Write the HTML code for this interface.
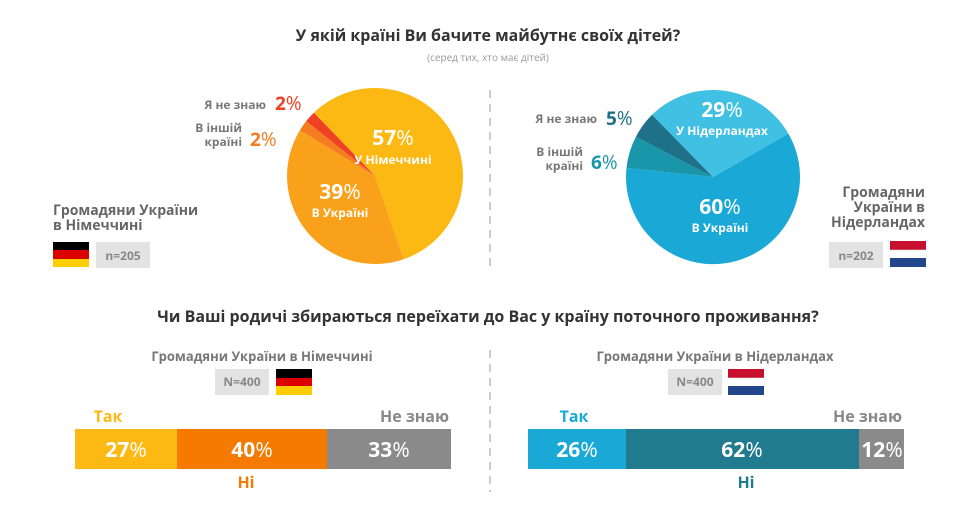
<!DOCTYPE html>
<html><head><meta charset="utf-8"><style>
body{margin:0;background:#fff;}
svg{display:block;font-family:"Open Sans","Liberation Sans","DejaVu Sans",sans-serif;}
.b{font-weight:bold}
</style></head><body>
<svg width="976" height="506" viewBox="0 0 976 506">
<text x="488" y="41" text-anchor="middle" class="b" font-size="16" fill="#333">У якій країні Ви бачите майбутнє своїх дітей?</text>
<text x="488" y="61" text-anchor="middle" font-size="10" fill="#999">(серед тих, хто має дітей)</text>
<line x1="490" y1="90" x2="490" y2="272" stroke="#ccc" stroke-width="2" stroke-dasharray="8,6"/>
<line x1="490" y1="350" x2="490" y2="492" stroke="#ccc" stroke-width="2" stroke-dasharray="8,6"/>

<!-- Pie 1 -->
<path d="M375,176 L313.9,112.7 A88,88 0 1 1 403.7,259.2 Z" fill="#fdb913"/>
<path d="M375,176 L403.7,259.2 A88,88 0 0 1 299.9,130.2 Z" fill="#f9a11b"/>
<path d="M375,176 L299.9,130.2 A88,88 0 0 1 306.2,121.1 Z" fill="#f47d20"/>
<path d="M375,176 L306.2,121.1 A88,88 0 0 1 313.9,112.7 Z" fill="#ef4123"/>
<text x="393" y="145" text-anchor="middle" font-size="21" fill="#fff"><tspan class="b">57</tspan>%</text>
<text x="393" y="164" text-anchor="middle" class="b" font-size="12" fill="#fff">У Німеччині</text>
<text x="340" y="199" text-anchor="middle" font-size="21" fill="#fff"><tspan class="b">39</tspan>%</text>
<text x="340" y="217" text-anchor="middle" class="b" font-size="12" fill="#fff">В Україні</text>
<text x="266" y="109" text-anchor="end" class="b" font-size="12" fill="#777">Я не знаю</text>
<text x="275" y="110" font-size="19" fill="#ef4123"><tspan class="b">2</tspan>%</text>
<text x="242" y="132" text-anchor="end" class="b" font-size="12" fill="#777">В іншій</text>
<text x="242" y="146" text-anchor="end" class="b" font-size="12" fill="#777">країні</text>
<text x="250" y="146" font-size="19" fill="#f47d20"><tspan class="b">2</tspan>%</text>
<text x="53" y="215" class="b" font-size="14" fill="#666">Громадяни України</text>
<text x="53" y="230" class="b" font-size="14" fill="#666">в Німеччині</text>
<rect x="53" y="242" width="36" height="8" fill="#000"/><rect x="53" y="250" width="36" height="9" fill="#dd0000"/><rect x="53" y="259" width="36" height="8" fill="#ffce00"/>
<rect x="96" y="242" width="54" height="26" fill="#e3e3e3"/>
<text x="123" y="260" text-anchor="middle" class="b" font-size="12" fill="#888">n=205</text>

<!-- Pie 2 -->
<path d="M713,177 L788.3,133.5 A87,87 0 1 1 626.5,167.9 Z" fill="#1aa9d6"/>
<path d="M713,177 L626.5,167.9 A87,87 0 0 1 635.9,136.7 Z" fill="#1a96aa"/>
<path d="M713,177 L635.9,136.7 A87,87 0 0 1 652.1,114.8 Z" fill="#1f7189"/>
<path d="M713,177 L652.1,114.8 A87,87 0 0 1 788.3,133.5 Z" fill="#40c0e2"/>
<text x="722" y="117" text-anchor="middle" font-size="21" fill="#fff"><tspan class="b">29</tspan>%</text>
<text x="722" y="135" text-anchor="middle" class="b" font-size="12" fill="#fff">У Нідерландах</text>
<text x="720" y="214" text-anchor="middle" font-size="21" fill="#fff"><tspan class="b">60</tspan>%</text>
<text x="720" y="232" text-anchor="middle" class="b" font-size="12" fill="#fff">В Україні</text>
<text x="597" y="123" text-anchor="end" class="b" font-size="12" fill="#777">Я не знаю</text>
<text x="606" y="125" font-size="19" fill="#1f7189"><tspan class="b">5</tspan>%</text>
<text x="583" y="156" text-anchor="end" class="b" font-size="12" fill="#777">В іншій</text>
<text x="583" y="170" text-anchor="end" class="b" font-size="12" fill="#777">країні</text>
<text x="591" y="169" font-size="19" fill="#1a96aa"><tspan class="b">6</tspan>%</text>
<text x="925" y="197" text-anchor="end" class="b" font-size="14" fill="#666">Громадяни</text>
<text x="925" y="212" text-anchor="end" class="b" font-size="14" fill="#666">України в</text>
<text x="925" y="227" text-anchor="end" class="b" font-size="14" fill="#666">Нідерландах</text>
<rect x="829" y="242" width="54" height="26" fill="#e3e3e3"/>
<text x="856" y="260" text-anchor="middle" class="b" font-size="12" fill="#888">n=202</text>
<rect x="890" y="241" width="36" height="9" fill="#c8102e"/><rect x="890" y="250" width="36" height="8" fill="#fff" stroke="#eee" stroke-width="0.5"/><rect x="890" y="258" width="36" height="9" fill="#21468b"/>

<!-- Bottom -->
<text x="488" y="322" text-anchor="middle" class="b" font-size="16" fill="#333">Чи Ваші родичі збираються переїхати до Вас у країну поточного проживання?</text>
<text x="262" y="361" text-anchor="middle" class="b" font-size="13" fill="#777">Громадяни України в Німеччині</text>
<rect x="215" y="369" width="54" height="26" fill="#e3e3e3"/>
<text x="242" y="386" text-anchor="middle" class="b" font-size="12" fill="#888">N=400</text>
<rect x="276" y="369" width="36" height="9" fill="#000"/><rect x="276" y="378" width="36" height="8" fill="#dd0000"/><rect x="276" y="386" width="36" height="9" fill="#ffce00"/>
<text x="108" y="422" text-anchor="middle" class="b" font-size="16" fill="#fdb913">Так</text>
<text x="449" y="422" text-anchor="end" class="b" font-size="16" fill="#888">Не знаю</text>
<rect x="75" y="429" width="102" height="40" fill="#fdb913"/>
<rect x="177" y="429" width="150" height="40" fill="#f47a00"/>
<rect x="327" y="429" width="124" height="40" fill="#8a8a8a"/>
<text x="126" y="457" text-anchor="middle" font-size="21" fill="#fff"><tspan class="b">27</tspan>%</text>
<text x="252" y="457" text-anchor="middle" font-size="21" fill="#fff"><tspan class="b">40</tspan>%</text>
<text x="389" y="457" text-anchor="middle" font-size="21" fill="#fff"><tspan class="b">33</tspan>%</text>
<text x="246" y="488" text-anchor="middle" class="b" font-size="16" fill="#f47a00">Ні</text>

<text x="715" y="361" text-anchor="middle" class="b" font-size="13" fill="#777">Громадяни України в Нідерландах</text>
<rect x="668" y="369" width="54" height="26" fill="#e3e3e3"/>
<text x="695" y="386" text-anchor="middle" class="b" font-size="12" fill="#888">N=400</text>
<rect x="728" y="369" width="36" height="9" fill="#c8102e"/><rect x="728" y="378" width="36" height="8" fill="#fff" stroke="#eee" stroke-width="0.5"/><rect x="728" y="386" width="36" height="9" fill="#21468b"/>
<text x="574" y="422" text-anchor="middle" class="b" font-size="16" fill="#1aa9d6">Так</text>
<text x="902" y="422" text-anchor="end" class="b" font-size="16" fill="#888">Не знаю</text>
<rect x="528" y="429" width="98" height="40" fill="#1aa9d6"/>
<rect x="626" y="429" width="233" height="40" fill="#217b8f"/>
<rect x="859" y="429" width="45" height="40" fill="#8a8a8a"/>
<text x="577" y="457" text-anchor="middle" font-size="21" fill="#fff"><tspan class="b">26</tspan>%</text>
<text x="742" y="457" text-anchor="middle" font-size="21" fill="#fff"><tspan class="b">62</tspan>%</text>
<text x="882" y="457" text-anchor="middle" font-size="21" fill="#fff"><tspan class="b">12</tspan>%</text>
<text x="746" y="488" text-anchor="middle" class="b" font-size="16" fill="#217b8f">Ні</text>
</svg>
</body></html>
